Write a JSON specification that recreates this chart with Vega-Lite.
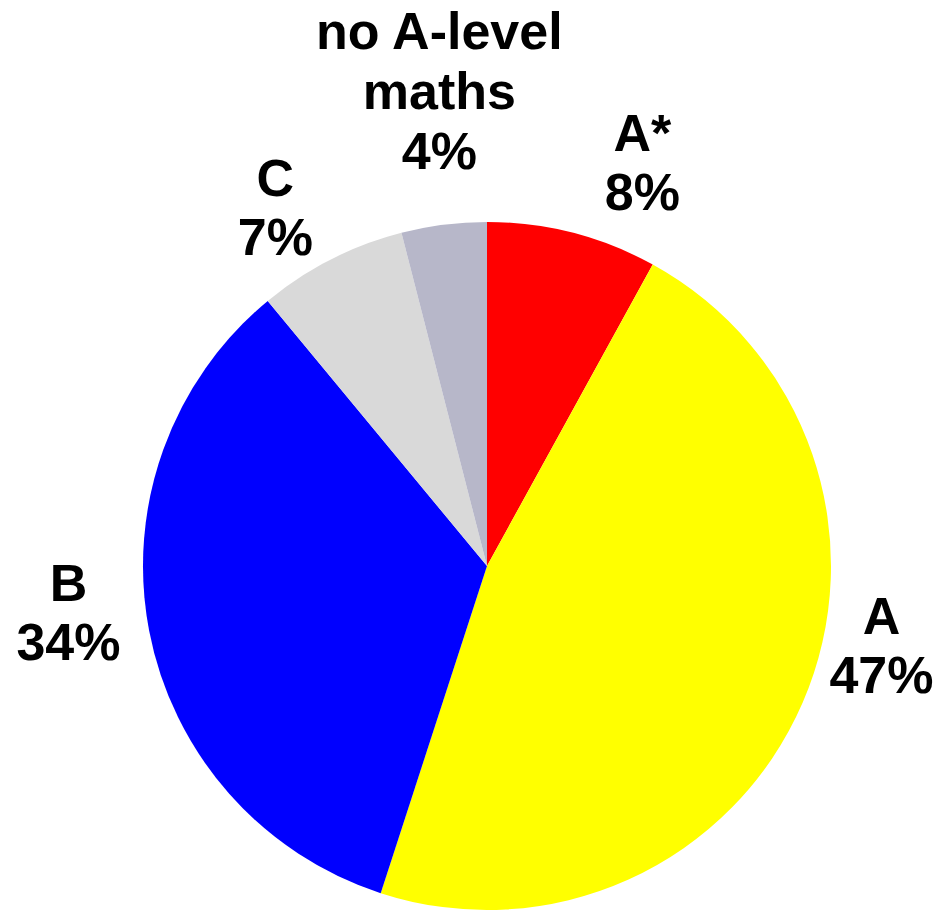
{
  "$schema": "https://vega.github.io/schema/vega-lite/v6.json",
  "autosize": "none",
  "width": 688,
  "height": 688,
  "padding": {"left": 143, "top": 222, "right": 109, "bottom": 0},
  "background": "white",
  "view": {"stroke": null},
  "data": {
    "values": [
      {"grade": "A*", "pct": 8, "rank": 1},
      {"grade": "A", "pct": 47, "rank": 2},
      {"grade": "B", "pct": 34, "rank": 3},
      {"grade": "C", "pct": 7, "rank": 4},
      {"grade": "no A-level\nmaths", "pct": 4, "rank": 5}
    ]
  },
  "transform": [
    {"calculate": "datum.grade + '\\n' + datum.pct + '%'", "as": "label"}
  ],
  "layer": [
    {
      "mark": {"type": "arc", "stroke": null},
      "encoding": {
        "theta": {"field": "pct", "type": "quantitative", "stack": true},
        "order": {"field": "rank", "type": "quantitative"},
        "color": {
          "field": "grade",
          "type": "nominal",
          "scale": {
            "domain": ["A*", "A", "B", "C", "no A-level\nmaths"],
            "range": ["#FF0000", "#FFFF00", "#0000FF", "#D9D9D9", "#B7B7C9"]
          },
          "legend": null
        }
      }
    },
    {
      "mark": {"type": "text", "radius": 420, "dx": 51, "dy": -24, "font": "Liberation Sans", "fontWeight": "bold", "fontSize": 52, "lineHeight": 59, "lineBreak": "\n", "align": "center", "baseline": "middle", "color": "black"},
      "encoding": {
        "theta": {"field": "pct", "type": "quantitative", "stack": true},
        "order": {"field": "rank", "type": "quantitative"},
        "text": {"condition": {"test": "datum.rank === 1", "field": "label", "type": "nominal"}, "value": ""}
      }
    },
    {
      "mark": {"type": "text", "radius": 420, "dx": 9, "dy": -115, "font": "Liberation Sans", "fontWeight": "bold", "fontSize": 52, "lineHeight": 59, "lineBreak": "\n", "align": "center", "baseline": "middle", "color": "black"},
      "encoding": {
        "theta": {"field": "pct", "type": "quantitative", "stack": true},
        "order": {"field": "rank", "type": "quantitative"},
        "text": {"condition": {"test": "datum.rank === 2", "field": "label", "type": "nominal"}, "value": ""}
      }
    },
    {
      "mark": {"type": "text", "radius": 420, "dx": -6, "dy": -60, "font": "Liberation Sans", "fontWeight": "bold", "fontSize": 52, "lineHeight": 59, "lineBreak": "\n", "align": "center", "baseline": "middle", "color": "black"},
      "encoding": {
        "theta": {"field": "pct", "type": "quantitative", "stack": true},
        "order": {"field": "rank", "type": "quantitative"},
        "text": {"condition": {"test": "datum.rank === 3", "field": "label", "type": "nominal"}, "value": ""}
      }
    },
    {
      "mark": {"type": "text", "radius": 420, "dx": -21, "dy": -12, "font": "Liberation Sans", "fontWeight": "bold", "fontSize": 52, "lineHeight": 59, "lineBreak": "\n", "align": "center", "baseline": "middle", "color": "black"},
      "encoding": {
        "theta": {"field": "pct", "type": "quantitative", "stack": true},
        "order": {"field": "rank", "type": "quantitative"},
        "text": {"condition": {"test": "datum.rank === 4", "field": "label", "type": "nominal"}, "value": ""}
      }
    },
    {
      "mark": {"type": "text", "radius": 420, "dx": 5, "dy": -116, "font": "Liberation Sans", "fontWeight": "bold", "fontSize": 52, "lineHeight": 60, "lineBreak": "\n", "align": "center", "baseline": "middle", "color": "black"},
      "encoding": {
        "theta": {"field": "pct", "type": "quantitative", "stack": true},
        "order": {"field": "rank", "type": "quantitative"},
        "text": {"condition": {"test": "datum.rank === 5", "field": "label", "type": "nominal"}, "value": ""}
      }
    }
  ]
}
